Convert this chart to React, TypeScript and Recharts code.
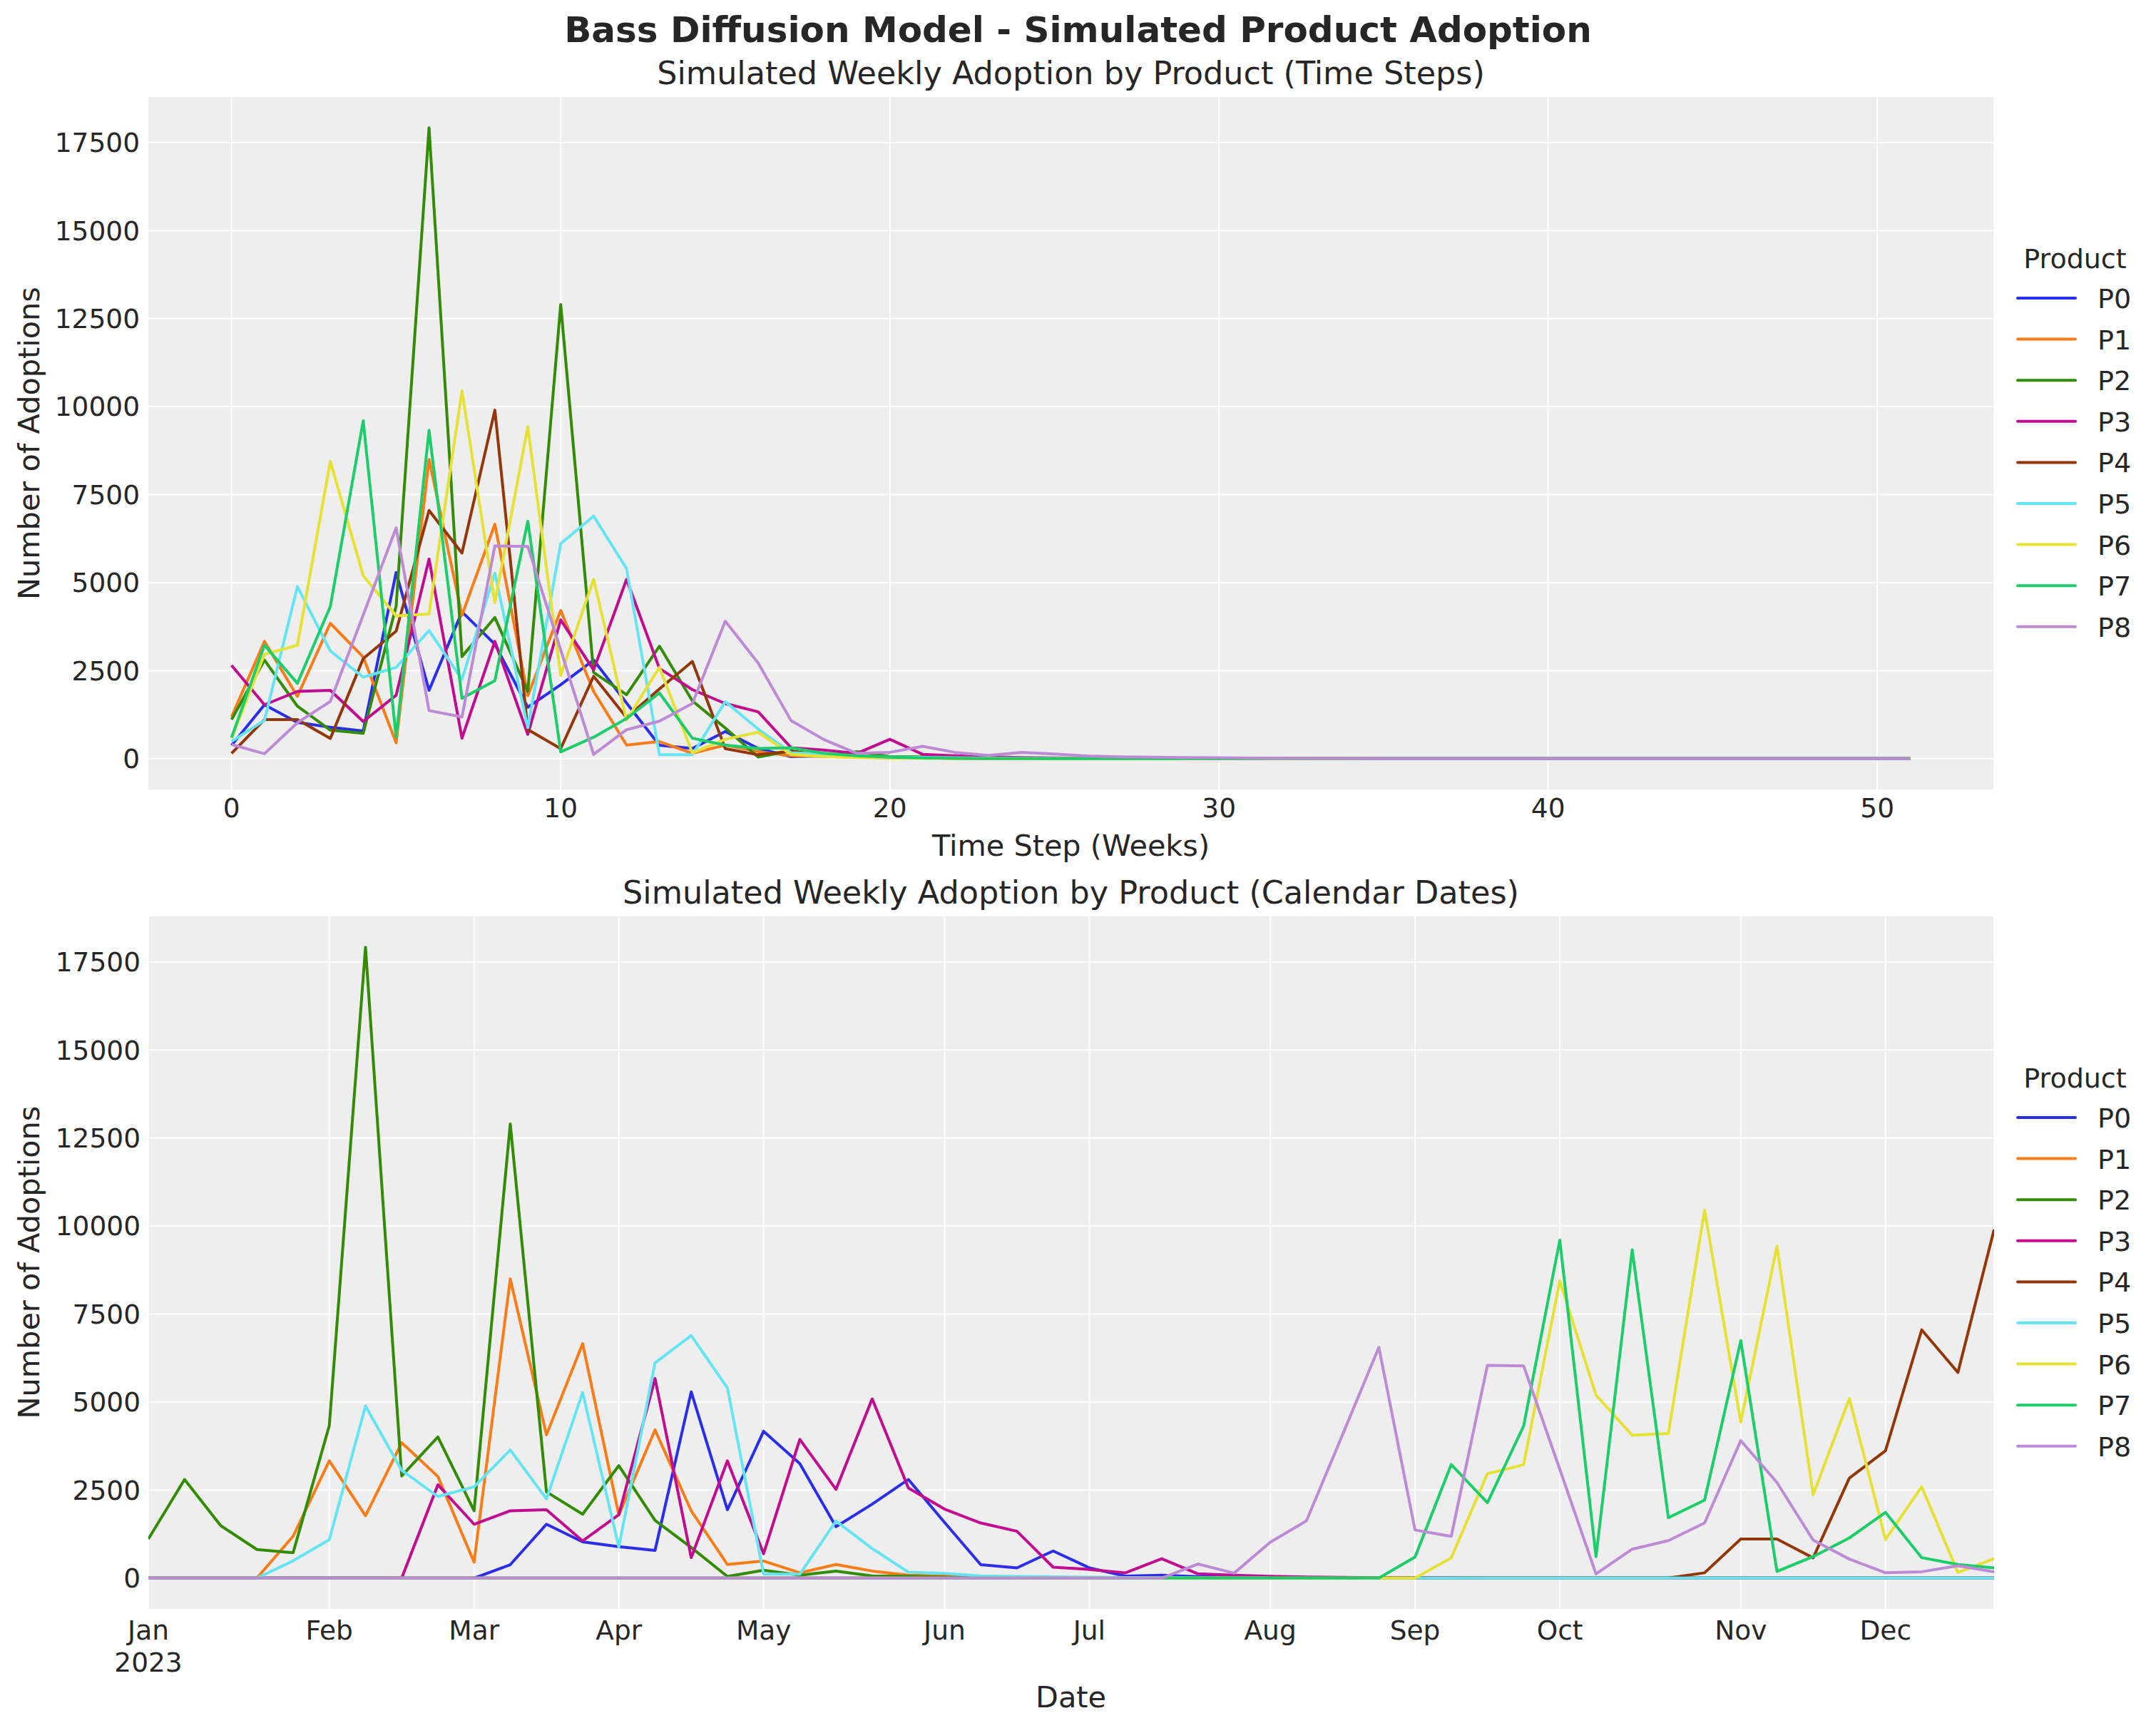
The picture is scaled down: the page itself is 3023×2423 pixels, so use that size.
import { LineChart, Line, XAxis, YAxis, CartesianGrid, Legend } from 'recharts';

const FONT = '"DejaVu Sans", Verdana, sans-serif';
const TEXT = '#262626';

const PRODUCTS = ['P0', 'P1', 'P2', 'P3', 'P4', 'P5', 'P6', 'P7', 'P8'];
const COLORS = ['#2a2eec', '#fa7c17', '#328c06', '#c10c90', '#933708', '#65e5f3', '#e6e135', '#1ccd6a', '#bd8ad5'];

// weekly adoptions per product, time step 0..51
const P0 = [
  380, 1530, 1030, 890, 785, 5290, 1940, 4170, 3250, 1460, 2100, 2800, 1580,
  380, 290, 770, 290, 55, 80, 40, 30, 20, 15, 10, 8, 5,
  4, 3, 2, 1, 1, 0, 0, 0, 0, 0, 0, 0, 0,
  0, 0, 0, 0, 0, 0, 0, 0, 0, 0, 0, 0, 0,
];
const P1 = [
  1190, 3330, 1770, 3845, 2885, 450, 8500, 4070, 6660, 1790, 4210, 1910, 385,
  485, 150, 385, 200, 80, 60, 40, 25, 15, 10, 8, 5, 4,
  3, 2, 1, 1, 0, 0, 0, 0, 0, 0, 0, 0, 0,
  0, 0, 0, 0, 0, 0, 0, 0, 0, 0, 0, 0, 0,
];
const P2 = [
  1110, 2800, 1490, 810, 720, 4330, 17920, 2900, 4010, 1910, 12900, 2450, 1815,
  3195, 1640, 870, 45, 225, 80, 200, 60, 50, 25, 15, 10, 6,
  4, 3, 2, 1, 1, 0, 0, 0, 0, 0, 0, 0, 0,
  0, 0, 0, 0, 0, 0, 0, 0, 0, 0, 0, 0, 0,
];
const P3 = [
  2650, 1530, 1910, 1940, 1055, 1800, 5670, 580, 3330, 690, 3940, 2520, 5090,
  2560, 1960, 1565, 1330, 310, 245, 150, 550, 120, 80, 50, 30, 20,
  10, 5, 3, 2, 1, 0, 0, 0, 0, 0, 0, 0, 0,
  0, 0, 0, 0, 0, 0, 0, 0, 0, 0, 0, 0, 0,
];
const P4 = [
  150, 1110, 1110, 575, 2840, 3620, 7050, 5840, 9900, 825, 285, 2340, 1165,
  1980, 2760, 285, 110, 215, 80, 50, 30, 20, 10, 6, 4, 2,
  1, 1, 0, 0, 0, 0, 0, 0, 0, 0, 0, 0, 0,
  0, 0, 0, 0, 0, 0, 0, 0, 0, 0, 0, 0, 0,
];
const P5 = [
  490, 1090, 4890, 3060, 2315, 2590, 3640, 2250, 5270, 880, 6110, 6890, 5400,
  110, 110, 1620, 840, 170, 130, 60, 45, 35, 25, 15, 10, 6,
  4, 3, 2, 1, 0, 0, 0, 0, 0, 0, 0, 0, 0,
  0, 0, 0, 0, 0, 0, 0, 0, 0, 0, 0, 0, 0,
];
const P6 = [
  575, 2965, 3220, 8445, 5200, 4055, 4110, 10450, 4430, 9430, 2365, 5100, 1095,
  2595, 160, 550, 750, 120, 60, 30, 20, 10, 6, 4, 2, 1,
  0, 0, 0, 0, 0, 0, 0, 0, 0, 0, 0, 0, 0,
  0, 0, 0, 0, 0, 0, 0, 0, 0, 0, 0, 0, 0,
];
const P7 = [
  600, 3225, 2140, 4320, 9600, 610, 9325, 1715, 2215, 6745, 190, 610, 1140,
  1865, 580, 385, 290, 310, 150, 80, 40, 20, 10, 6, 4, 2,
  1, 0, 0, 0, 0, 0, 0, 0, 0, 0, 0, 0, 0,
  0, 0, 0, 0, 0, 0, 0, 0, 0, 0, 0, 0, 0,
];
const P8 = [
  400, 140, 1020, 1625, 4080, 6555, 1365, 1185, 6045, 6030, 3090, 120, 822,
  1065, 1565, 3905, 2715, 1080, 540, 150, 180, 350, 175, 90, 180, 130,
  75, 50, 40, 30, 25, 15, 10, 8, 5, 3, 2, 1, 0,
  0, 0, 0, 0, 0, 0, 0, 0, 0, 0, 0, 0, 0,
];
const SERIES = [P0, P1, P2, P3, P4, P5, P6, P7, P8];

// calendar week (0 = first week of 2023) in which each product launches
const LAUNCH_WEEK = [10, 4, 0, 8, 43, 4, 36, 35, 29];

const STEP_TICKS = [0, 10, 20, 30, 40, 50];
const ADOPTION_TICKS = [0, 2500, 5000, 7500, 10000, 12500, 15000, 17500];
const MONTH_TICK_WEEKS = [0, 5, 9, 13, 17, 22, 26, 31, 35, 39, 44, 48];
const MONTH_LABELS = ['Jan', 'Feb', 'Mar', 'Apr', 'May', 'Jun', 'Jul', 'Aug', 'Sep', 'Oct', 'Nov', 'Dec'];

const N_WEEKS = 52;

const stepRows = Array.from({ length: N_WEEKS }, (_, t) => {
  const row: Record<string, number> = { t };
  PRODUCTS.forEach((p, i) => (row[p] = SERIES[i][t]));
  return row;
});

const dateRows = Array.from({ length: N_WEEKS }, (_, w) => {
  const row: Record<string, number> = { w };
  PRODUCTS.forEach((p, i) => {
    const k = w - LAUNCH_WEEK[i];
    row[p] = k >= 0 ? SERIES[i][k] : 0;
  });
  return row;
});

// matplotlib-style 5% margins
const yMax = Math.max(...SERIES.flat());
const Y_DOMAIN = [-0.05 * yMax, yMax * 1.05];
const X_STEP_DOMAIN = [-0.05 * (N_WEEKS - 1), (N_WEEKS - 1) * 1.05];

const W = 3023;
const PLOT_LEFT = 207;
const PLOT_RIGHT = 2796;
const PLOT_TOP = 135;
const PLOT_H = 973;
const BOTTOM_SHIFT = 1149;

const tickStyle = { fill: TEXT, fontSize: 37.5, fontFamily: FONT };

function ProductLegend() {
  return (
    <svg width={200} height={600} style={{ overflow: 'visible' }}>
      <text x={89.5} y={56} textAnchor="middle" fontSize={38} fontFamily={FONT} fill={TEXT}>
        Product
      </text>
      {PRODUCTS.map((p, i) => {
        const base = 112 + 57.6 * i;
        return (
          <g key={p}>
            <line x1={9} x2={90} y1={base - 14} y2={base - 14} stroke={COLORS[i]} strokeWidth={4} strokeLinecap="round" />
            <text x={121} y={base} fontSize={38} fontFamily={FONT} fill={TEXT}>
              {p}
            </text>
          </g>
        );
      })}
    </svg>
  );
}

function MonthTick(props: any) {
  const { x, y, payload } = props;
  const idx = MONTH_TICK_WEEKS.indexOf(payload.value);
  return (
    <g>
      <text x={x} y={y + 42} textAnchor="middle" {...tickStyle}>
        {MONTH_LABELS[idx]}
      </text>
      {idx === 0 && (
        <text x={x} y={y + 86.5} textAnchor="middle" {...tickStyle}>
          2023
        </text>
      )}
    </g>
  );
}

function lines() {
  return PRODUCTS.map((p, i) => (
    <Line
      key={p}
      type="linear"
      dataKey={p}
      stroke={COLORS[i]}
      strokeWidth={4}
      strokeLinejoin="round"
      dot={false}
      activeDot={false}
      isAnimationActive={false}
    />
  ));
}

const legendProps = {
  layout: 'vertical' as const,
  align: 'center' as const,
  verticalAlign: 'middle' as const,
  wrapperStyle: { left: 2820, top: 320, width: 200, height: 600 },
  content: () => <ProductLegend />,
};

export default function App() {
  const margin = { top: PLOT_TOP, right: W - PLOT_RIGHT, bottom: 0, left: 0 };
  return (
    <div style={{ position: 'absolute', left: 0, top: 0, width: W, height: 2423, background: '#fff', overflow: 'hidden', fontFamily: FONT }}>
      <div style={{ position: 'absolute', left: 0, top: 0 }}>
        <LineChart width={W} height={1230} data={stepRows} margin={margin}>
          <CartesianGrid stroke="#ffffff" strokeWidth={1.8} fill="#eeeeee" />
          <XAxis
            dataKey="t"
            type="number"
            domain={X_STEP_DOMAIN}
            ticks={STEP_TICKS}
            allowDataOverflow
            axisLine={false}
            tickLine={false}
            tickSize={0}
            tickMargin={11}
            height={1230 - PLOT_TOP - PLOT_H}
            tick={tickStyle}
          />
          <YAxis
            type="number"
            domain={Y_DOMAIN}
            ticks={ADOPTION_TICKS}
            allowDataOverflow
            axisLine={false}
            tickLine={false}
            tickSize={0}
            tickMargin={11}
            width={PLOT_LEFT}
            tick={tickStyle}
          />
          <Legend {...legendProps} />
          {lines()}
        </LineChart>
      </div>

      <div style={{ position: 'absolute', left: 0, top: BOTTOM_SHIFT }}>
        <LineChart width={W} height={1274} data={dateRows} margin={{ ...margin, left: 1 }}>
          <CartesianGrid stroke="#ffffff" strokeWidth={1.8} fill="#eeeeee" />
          <XAxis
            dataKey="w"
            type="number"
            domain={[0, N_WEEKS - 1]}
            ticks={MONTH_TICK_WEEKS}
            allowDataOverflow
            axisLine={false}
            tickLine={false}
            tickSize={0}
            tickMargin={0}
            height={1274 - PLOT_TOP - PLOT_H}
            tick={<MonthTick />}
          />
          <YAxis
            type="number"
            domain={Y_DOMAIN}
            ticks={ADOPTION_TICKS}
            allowDataOverflow
            axisLine={false}
            tickLine={false}
            tickSize={0}
            tickMargin={11}
            width={PLOT_LEFT}
            tick={tickStyle}
          />
          <Legend {...legendProps} />
          {lines()}
        </LineChart>
      </div>

      <svg width={W} height={2423} style={{ position: 'absolute', left: 0, top: 0, pointerEvents: 'none' }} fontFamily={FONT} fill={TEXT}>
        <text x={1511.5} y={59} textAnchor="middle" fontSize={50} fontWeight="bold">
          Bass Diffusion Model - Simulated Product Adoption
        </text>
        <text x={1501.5} y={118} textAnchor="middle" fontSize={44.5}>
          Simulated Weekly Adoption by Product (Time Steps)
        </text>
        <text x={1501.5} y={1200} textAnchor="middle" fontSize={41.4}>
          Time Step (Weeks)
        </text>
        <text x={55} y={621.5} textAnchor="middle" fontSize={41.4} transform="rotate(-90 55 621.5)">
          Number of Adoptions
        </text>
        <text x={1501.5} y={1267} textAnchor="middle" fontSize={44.5}>
          Simulated Weekly Adoption by Product (Calendar Dates)
        </text>
        <text x={1501.5} y={2394} textAnchor="middle" fontSize={41.4}>
          Date
        </text>
        <text x={55} y={1770} textAnchor="middle" fontSize={41.4} transform="rotate(-90 55 1770)">
          Number of Adoptions
        </text>
      </svg>
    </div>
  );
}
